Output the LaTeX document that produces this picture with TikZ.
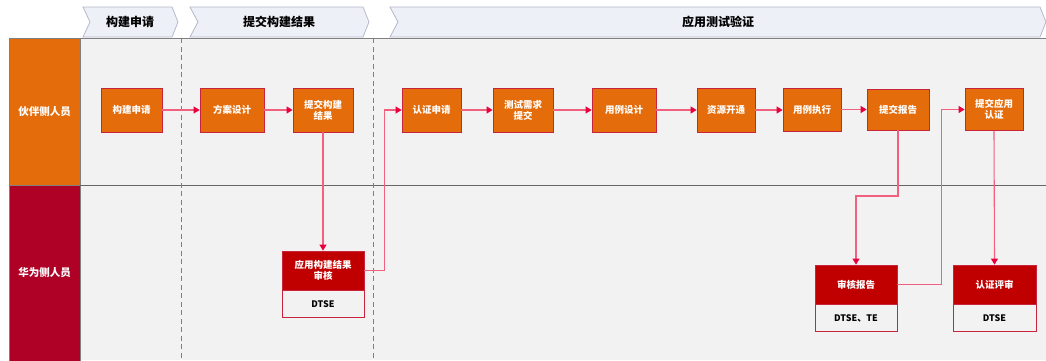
\documentclass[tikz,border=0pt]{standalone}
\usepackage{fontspec}
\setmainfont{Noto Sans CJK SC}
\usetikzlibrary{arrows.meta,calc}
\definecolor{boxorange}{HTML}{E46C0A}
\definecolor{laneorange}{HTML}{E46C0A}
\definecolor{lanered}{HTML}{AF0026}
\definecolor{hdrred}{HTML}{C00000}
\definecolor{boxedge}{HTML}{C8243C}
\definecolor{conn}{HTML}{F2607F}
\definecolor{tipred}{HTML}{E8003A}
\definecolor{bggray}{HTML}{F2F2F2}
\definecolor{chevfill}{HTML}{EEF0F7}
\definecolor{chevedge}{HTML}{B4B8CC}
\definecolor{linegray}{HTML}{7F7F7F}
\begin{document}
\begin{tikzpicture}[x=1pt,y=-1pt,
  stepbox/.style={draw=boxedge, line width=0.8pt, fill=boxorange, text=white,
    minimum width=60pt, minimum height=44pt, inner sep=1pt, align=center,
    font=\bfseries\fontsize{9.5}{11}\selectfont},
  revhead/.style={draw=boxedge, line width=0.8pt, fill=hdrred, text=white,
    minimum width=82pt, minimum height=39pt, inner sep=1pt, align=center,
    font=\bfseries\fontsize{9.5}{11}\selectfont},
  revfoot/.style={draw=boxedge, line width=0.8pt, fill=bggray, text=black,
    minimum width=82pt, minimum height=27pt, inner sep=1pt, align=center,
    font=\bfseries\fontsize{9}{11}\selectfont},
  lanelabel/.style={draw=linegray, line width=0.8pt, text=white, minimum width=71pt,
    font=\bfseries\fontsize{10.5}{12}\selectfont},
  chev/.style={draw=chevedge, line width=0.8pt, fill=chevfill},
  chevtext/.style={font=\bfseries\fontsize{12}{14}\selectfont, text=black},
  link/.style={draw=conn, line width=1.1pt,
    -{Triangle[length=6pt,width=7pt,color=tipred]}},
  divider/.style={draw=linegray, line width=0.9pt, dash pattern=on 5pt off 3.5pt}
]
\useasboundingbox (0,0) rectangle (1046,360);
% background
\fill[bggray] (80,38) rectangle (1046,360);
% header chevrons
\path[chev] (83,7) -- (172,7) -- (178,22) -- (172,37) -- (83,37) -- (90,22) -- cycle;
\path[chev] (190,7) -- (363,7) -- (369,22) -- (363,37) -- (190,37) -- (198,22) -- cycle;
\path[chev] (390,7) -- (1040,7) -- (1046,22) -- (1040,37) -- (390,37) -- (398,22) -- cycle;
\node[chevtext] (h1) at (130,22) {构建申请};
\node[chevtext] (h2) at (279,22) {提交构建结果};
\node[chevtext] (h3) at (718,22) {应用测试验证};
% lane labels
\node[lanelabel, fill=laneorange, minimum height=147pt] (l1) at (44.5,111.5) {伙伴侧人员};
\node[lanelabel, fill=lanered, minimum height=176pt] (l2) at (44.5,273) {华为侧人员};
% lines
\draw[linegray, line width=1pt] (9,38) -- (1046,38);
\draw[black!60, line width=1.4pt] (80,185.5) -- (1046,185.5);
\draw[divider] (181,38) -- (181,360);
\draw[divider] (373,38) -- (373,360);
% partner lane boxes
\node[stepbox, minimum width=61pt] (p1) at (131.5,110) {构建申请};
\node[stepbox, minimum width=64pt] (p2) at (232,110) {方案设计};
\node[stepbox] (p3) at (323,110) {提交构建\\结果};
\node[stepbox, minimum width=59pt] (p4) at (431.5,110) {认证申请};
\node[stepbox] (p5) at (523,110) {测试需求\\提交};
\node[stepbox, minimum width=64pt] (p6) at (624,110) {用例设计};
\node[stepbox, minimum width=58pt] (p7) at (726,110) {资源开通};
\node[stepbox, minimum width=58pt, minimum height=43pt] (p8) at (812,109.5) {用例执行};
\node[stepbox, minimum width=62pt, minimum height=41pt] (p9) at (898,109.5) {提交报告};
\node[stepbox, minimum width=58pt, minimum height=42pt] (p10) at (994,109.5) {提交应用\\认证};
% huawei lane boxes
\node[revhead] (r1h) at (323,270.5) {应用构建结果\\审核};
\node[revfoot, anchor=north] (r1f) at (r1h.south) {DTSE};
\node[revhead] (r2h) at (856,284.5) {审核报告};
\node[revfoot, anchor=north] (r2f) at (r2h.south) {DTSE、TE};
\node[revhead, minimum width=83pt] (r3h) at (994.5,284.5) {认证评审};
\node[revfoot, minimum width=83pt, anchor=north] (r3f) at (r3h.south) {DTSE};
% connectors
\draw[link] (p1.east) -- (p2.west);
\draw[link] (p2.east) -- (p3.west);
\draw[link] (p3.south) -- (r1h.north);
\draw[link] (r1h.east) -- ++(20,0) |- (p4.west);
\draw[link] (p4.east) -- (p5.west);
\draw[link] (p5.east) -- (p6.west);
\draw[link] (p6.east) -- (p7.west);
\draw[link] (p7.east) -- (p7.east -| p8.west);
\draw[link] (p8.east) -- (p9.west);
\coordinate (k1) at (880,196);
\draw[link] (p9.south) |- (k1) -| (r2h.north);
\draw[link] (r2h.east) -- ++(44,0) |- (p10.west);
\draw[link] (p10.south) -- (r3h.north);
\end{tikzpicture}
\end{document}
